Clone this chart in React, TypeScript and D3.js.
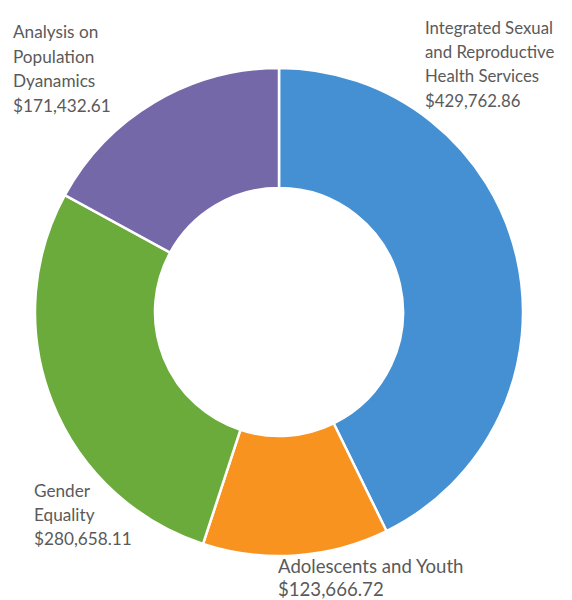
import { useEffect, useRef } from 'react';
import * as d3 from 'd3';

const categories = [
  'Integrated Sexual and Reproductive Health Services',
  'Adolescents and Youth',
  'Gender Equality',
  'Analysis on Population Dyanamics',
];
const amounts = [429762.86, 123666.72, 280658.11, 171432.61];
const colors = ['#4590d3', '#f7931e', '#6aab3b', '#7468a8'];
// label lines as printed on the chart (amount is appended)
const labelLines = [
  ['Integrated Sexual', 'and Reproductive', 'Health Services'],
  ['Adolescents and Youth'],
  ['Gender', 'Equality'],
  ['Analysis on', 'Population', 'Dyanamics'],
];
const labelPos = [
  { x: 425, y: 34, gap: 24.2, size: 16.8 },
  { x: 278, y: 573, gap: 23, size: 18.6 },
  { x: 34, y: 497, gap: 24, size: 17.2 },
  { x: 13, y: 38, gap: 24.6, size: 17.2 },
];

export default function App() {
  const svgRef = useRef<SVGSVGElement>(null);

  useEffect(() => {
    document.body.style.margin = '0';
    if (!svgRef.current) return;
    const svg = d3.select(svgRef.current);
    svg.selectAll('*').remove();

    const cx = 279;
    const cy = 312;
    const data = categories.map((name, i) => ({ name, value: amounts[i], color: colors[i] }));

    const pie = d3.pie<any>().sort(null).value(d => d.value);
    const arc = d3.arc<any>().innerRadius(124).outerRadius(244);

    svg.append('g')
      .attr('transform', `translate(${cx},${cy})`)
      .selectAll('path')
      .data(pie(data))
      .join('path')
      .attr('d', arc)
      .attr('fill', d => d.data.color)
      .attr('stroke', '#fff')
      .attr('stroke-width', 2.5);

    const fmt = d3.format('$,.2f');
    const labels = svg.append('g')
      .attr('font-family', 'Lato, "Open Sans", sans-serif')
      .attr('fill', '#5a5a5a');

    data.forEach((d, i) => {
      const lines = [...labelLines[i], fmt(d.value)];
      const p = labelPos[i];
      const t = labels.append('text')
        .attr('x', p.x)
        .attr('y', p.y)
        .attr('font-size', p.size);
      lines.forEach((line, j) => {
        t.append('tspan')
          .attr('x', p.x)
          .attr('y', p.y + j * p.gap)
          .text(line);
      });
    });
  }, []);

  return (
    <svg ref={svgRef} width={572} height={600} style={{ display: 'block', background: '#fff' }}></svg>
  );
}
